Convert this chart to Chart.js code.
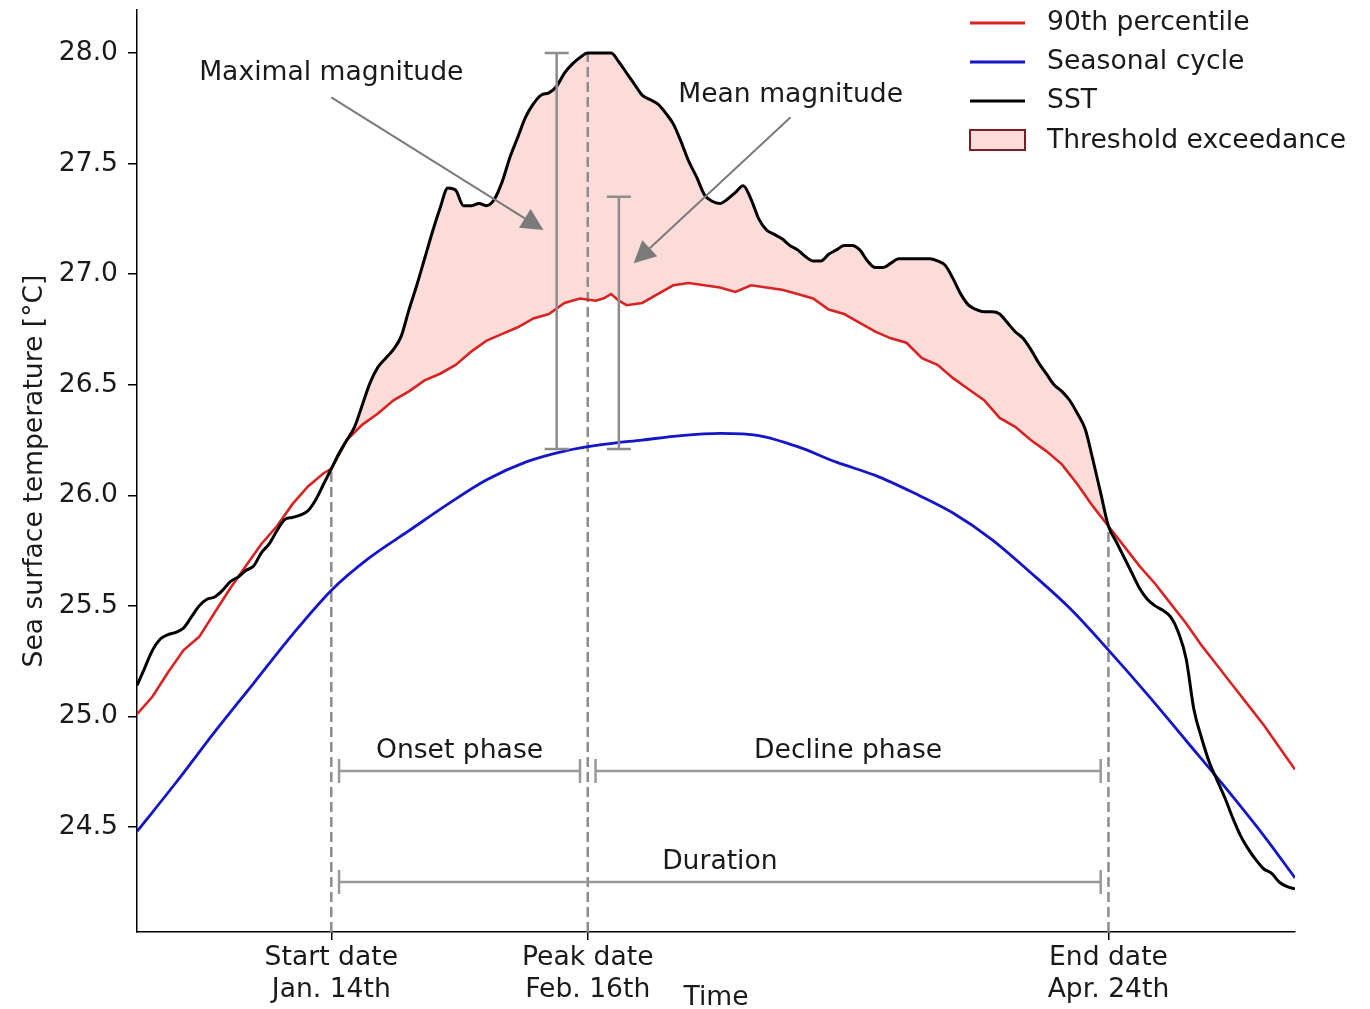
<!DOCTYPE html>
<html>
<head>
<meta charset="utf-8">
<title>Marine heatwave metrics</title>
<script src="https://cdn.jsdelivr.net/npm/chart.js@4.4.1/dist/chart.umd.min.js"></script>
<style>
  html, body { margin: 0; padding: 0; background: #ffffff; }
  #wrap { width: 1370px; height: 1009px; }
</style>
</head>
<body>
<div id="wrap"><canvas id="chart" width="1370" height="1009"></canvas></div>
<script>
// Days are counted from the event start (Jan. 14th = day 0).
const sstDays = Array.from({ length: 150 }, (_, i) => i - 25);
const sstValues = [
  25.14, 25.22, 25.30, 25.35, 25.37, 25.38, 25.40, 25.45, 25.50, 25.53,
  25.54, 25.57, 25.61, 25.63, 25.66, 25.68, 25.74, 25.78, 25.84, 25.89,
  25.90, 25.91, 25.93, 25.98, 26.05, 26.12, 26.19, 26.25, 26.31, 26.41,
  26.51, 26.58, 26.62, 26.66, 26.72, 26.84, 26.95, 27.07, 27.19, 27.30,
  27.39, 27.38, 27.31, 27.31, 27.32, 27.31, 27.34, 27.42, 27.53, 27.62,
  27.71, 27.77, 27.81, 27.82, 27.85, 27.91, 27.95, 27.98, 28.00, 28.00,
  28.00, 28.00, 27.96, 27.91, 27.86, 27.81, 27.79, 27.77, 27.73, 27.68,
  27.60, 27.51, 27.44, 27.36, 27.33, 27.32, 27.34, 27.37, 27.40, 27.34,
  27.25, 27.20, 27.18, 27.16, 27.13, 27.11, 27.08, 27.06, 27.06, 27.09,
  27.11, 27.13, 27.13, 27.11, 27.06, 27.03, 27.03, 27.05, 27.07, 27.07,
  27.07, 27.07, 27.07, 27.06, 27.04, 26.98, 26.91, 26.86, 26.84, 26.83,
  26.83, 26.82, 26.78, 26.74, 26.71, 26.66, 26.60, 26.55, 26.50, 26.47,
  26.43, 26.37, 26.30, 26.16, 26.01, 25.86, 25.79, 25.72, 25.65, 25.58,
  25.53, 25.50, 25.48, 25.45, 25.38, 25.26, 25.03, 24.90, 24.79, 24.71,
  24.63, 24.54, 24.46, 24.40, 24.35, 24.31, 24.29, 24.25, 24.23, 24.22
];

const p90Days = [
  -25, -23, -21, -19, -17, -15, -13, -11, -9, -7, -5, -3, -1,
  0, 2, 4, 6, 8, 10, 12, 14, 16, 18, 20, 22, 24, 26, 28, 30, 32,
  34, 35, 36, 37, 38, 40, 42, 44, 46, 48, 50, 52, 54, 56, 58, 60,
  62, 64, 66, 68, 70, 72, 74, 76, 78, 80, 82, 84, 86, 88, 90, 92,
  94, 96, 98, 100, 102, 104, 106, 108, 110, 112, 114, 116, 118, 120, 122, 124
];
const p90Values = [
  25.01, 25.09, 25.20, 25.30, 25.36, 25.47, 25.58, 25.68, 25.78, 25.86, 25.96, 26.04, 26.10,
  26.12, 26.25, 26.32, 26.37, 26.43, 26.47, 26.52, 26.55, 26.59, 26.65, 26.70, 26.73, 26.76, 26.80, 26.82, 26.87, 26.89,
  26.88, 26.89, 26.91, 26.88, 26.86, 26.87, 26.91, 26.95, 26.96, 26.95, 26.94, 26.92, 26.95, 26.94, 26.93, 26.91,
  26.89, 26.84, 26.82, 26.78, 26.74, 26.71, 26.69, 26.62, 26.59, 26.53, 26.48, 26.43, 26.35, 26.31, 26.25, 26.20,
  26.14, 26.05, 25.95, 25.86, 25.77, 25.68, 25.60, 25.51, 25.42, 25.32, 25.23, 25.14, 25.05, 24.96, 24.86, 24.76
];

const climDays = [
  -25, -20, -15, -10, -5, 0, 5, 10, 15, 20, 25, 30, 35, 40, 45, 50,
  55, 60, 65, 70, 75, 80, 85, 90, 95, 100, 105, 110, 115, 120, 124
];
const climValues = [
  24.48, 24.70, 24.93, 25.15, 25.37, 25.57, 25.72, 25.84, 25.96, 26.07, 26.15, 26.20, 26.23, 26.25, 26.27, 26.28,
  26.27, 26.22, 26.15, 26.09, 26.01, 25.92, 25.80, 25.65, 25.49, 25.30, 25.10, 24.89, 24.68, 24.46, 24.27
];

const yTickValues = [24.5, 25.0, 25.5, 26.0, 26.5, 27.0, 27.5, 28.0];
const eventDays = [0, 33, 100];
const eventTickLabels = [["Start date", "Jan. 14th"], ["Peak date", "Feb. 16th"], ["End date", "Apr. 24th"]];

// Event metrics shown on the plot
const magnitudeBars = [
  { day: 29, low: 26.21, high: 28.00 },  // maximal magnitude
  { day: 37, low: 26.21, high: 27.35 }   // mean magnitude
];
const labelArrows = [
  { text: "Maximal magnitude", textDay: 0, textTemp: 27.91, fromDay: 0, fromTemp: 27.80, toDay: 27.3, toTemp: 27.20 },
  { text: "Mean magnitude", textDay: 59.1, textTemp: 27.81, fromDay: 59.1, fromTemp: 27.71, toDay: 38.9, toTemp: 27.05 }
];
const phaseSpans = [
  { text: "Onset phase", from: 1, to: 32, level: 24.753 },
  { text: "Decline phase", from: 34, to: 99, level: 24.753 },
  { text: "Duration", from: 1, to: 99, level: 24.251 }
];

const FONT = "DejaVu Sans";
const FSIZE = 26.6;
const TEXT = "#1a1a1a";
const GREY = "#8c8c8c";
const RED = "#d92323";
const BLUE = "#1414c8";
const PINK = "rgb(251, 220, 217)";

const toPoints = (xs, ys) => xs.map((d, i) => ({ x: d, y: ys[i] }));
const sstAt = d => sstValues[sstDays.indexOf(d)];

const exceedPoints = sstDays
  .filter(d => d >= eventDays[0] && d <= eventDays[2])
  .map(d => ({ x: d, y: sstAt(d) }));

function drawArrowHead(ctx, x0, y0, x1, y1, len, half) {
  const a = Math.atan2(y1 - y0, x1 - x0);
  const bx = x1 - len * Math.cos(a), by = y1 - len * Math.sin(a);
  ctx.beginPath();
  ctx.moveTo(x1, y1);
  ctx.lineTo(bx + half * Math.sin(a), by - half * Math.cos(a));
  ctx.lineTo(bx - half * Math.sin(a), by + half * Math.cos(a));
  ctx.closePath();
  ctx.fill();
  return [bx, by];
}

const eventAnnotations = {
  id: "eventAnnotations",
  beforeDatasetsDraw(chart) {
    const { ctx, chartArea, scales: { x, y } } = chart;
    ctx.save();
    ctx.strokeStyle = GREY;
    ctx.lineWidth = 2.5;
    ctx.setLineDash([10, 5]);
    eventDays.forEach(d => {
      const px = x.getPixelForValue(d);
      ctx.beginPath();
      ctx.moveTo(px, chartArea.bottom);
      ctx.lineTo(px, y.getPixelForValue(sstAt(d)));
      ctx.stroke();
    });
    ctx.restore();
  },
  afterDatasetsDraw(chart) {
    const { ctx, scales: { x, y } } = chart;
    ctx.save();
    ctx.setLineDash([]);

    // magnitude bars with caps
    ctx.strokeStyle = GREY;
    ctx.lineWidth = 2.5;
    magnitudeBars.forEach(b => {
      const px = x.getPixelForValue(b.day);
      const y0 = y.getPixelForValue(b.low), y1 = y.getPixelForValue(b.high);
      ctx.beginPath();
      ctx.moveTo(px, y0); ctx.lineTo(px, y1);
      ctx.moveTo(px - 12, y0); ctx.lineTo(px + 12, y0);
      ctx.moveTo(px - 12, y1); ctx.lineTo(px + 12, y1);
      ctx.stroke();
    });

    // phase and duration spans
    ctx.font = `${FSIZE}px "${FONT}"`;
    ctx.textAlign = "center";
    ctx.textBaseline = "middle";
    phaseSpans.forEach(s => {
      const x0 = x.getPixelForValue(s.from), x1 = x.getPixelForValue(s.to);
      const py = y.getPixelForValue(s.level);
      ctx.strokeStyle = "#999999";
      ctx.lineWidth = 2.5;
      ctx.beginPath();
      ctx.moveTo(x0, py); ctx.lineTo(x1, py);
      ctx.moveTo(x0, py - 12); ctx.lineTo(x0, py + 12);
      ctx.moveTo(x1, py - 12); ctx.lineTo(x1, py + 12);
      ctx.stroke();
      ctx.fillStyle = TEXT;
      ctx.fillText(s.text, (x0 + x1) / 2, py - 20);
    });

    // labelled arrows
    labelArrows.forEach(a => {
      const fx = x.getPixelForValue(a.fromDay), fy = y.getPixelForValue(a.fromTemp);
      const tx = x.getPixelForValue(a.toDay), ty = y.getPixelForValue(a.toTemp);
      ctx.fillStyle = "#7a7a7a";
      const [bx, by] = drawArrowHead(ctx, fx, fy, tx, ty, 22, 11);
      ctx.strokeStyle = "#7a7a7a";
      ctx.lineWidth = 2;
      ctx.beginPath();
      ctx.moveTo(fx, fy); ctx.lineTo(bx, by);
      ctx.stroke();
      ctx.fillStyle = TEXT;
      ctx.fillText(a.text, x.getPixelForValue(a.textDay), y.getPixelForValue(a.textTemp));
    });
    ctx.restore();
  },
  afterDraw(chart) {
    const { ctx, chartArea } = chart;
    ctx.save();
    ctx.fillStyle = TEXT;
    ctx.font = `${FSIZE}px "${FONT}"`;
    ctx.textAlign = "center";
    ctx.textBaseline = "middle";

    // axis titles
    ctx.fillText("Time", (chartArea.left + chartArea.right) / 2, chartArea.bottom + 66);
    ctx.save();
    ctx.translate(chartArea.left - 102, (chartArea.top + chartArea.bottom) / 2);
    ctx.rotate(-Math.PI / 2);
    ctx.fillText("Sea surface temperature [°C]", 0, 0);
    ctx.restore();

    // legend
    const lx = chartArea.right - 325;
    const tx = chartArea.right - 248;
    const rows = [
      { text: "90th percentile", color: RED, y: 23 },
      { text: "Seasonal cycle", color: BLUE, y: 62 },
      { text: "SST", color: "#000000", y: 101 }
    ];
    ctx.textAlign = "left";
    rows.forEach(r => {
      ctx.strokeStyle = r.color;
      ctx.lineWidth = 3;
      ctx.beginPath();
      ctx.moveTo(lx, r.y); ctx.lineTo(lx + 55, r.y);
      ctx.stroke();
      ctx.fillText(r.text, tx, r.y);
    });
    ctx.fillStyle = PINK;
    ctx.fillRect(lx, 130, 55, 20);
    ctx.strokeStyle = "#7a1f1f";
    ctx.lineWidth = 2;
    ctx.strokeRect(lx, 130, 55, 20);
    ctx.fillStyle = TEXT;
    ctx.fillText("Threshold exceedance", tx, 141);
    ctx.restore();
  }
};

Chart.defaults.font.family = FONT;
Chart.defaults.font.size = FSIZE;
Chart.defaults.color = TEXT;

new Chart(document.getElementById("chart"), {
  type: "line",
  data: {
    datasets: [
      { label: "SST", data: toPoints(sstDays, sstValues), borderColor: "#000000", borderWidth: 3,
        pointRadius: 0, fill: false, cubicInterpolationMode: "monotone" },
      { label: "90th percentile", data: toPoints(p90Days, p90Values), borderColor: RED, borderWidth: 2.6,
        pointRadius: 0, fill: false, tension: 0 },
      { label: "Seasonal cycle", data: toPoints(climDays, climValues), borderColor: BLUE, borderWidth: 2.8,
        pointRadius: 0, fill: false, cubicInterpolationMode: "monotone" },
      { label: "Threshold exceedance", data: exceedPoints, borderWidth: 0, borderColor: "rgba(0,0,0,0)",
        pointRadius: 0, cubicInterpolationMode: "monotone",
        fill: { target: 1, above: PINK, below: "rgba(0,0,0,0)" } }
    ]
  },
  options: {
    responsive: false,
    animation: false,
    events: [],
    layout: { padding: { left: 0, right: 75, top: 10, bottom: 0 } },
    plugins: {
      legend: { display: false },
      tooltip: { enabled: false },
      filler: { drawTime: "beforeDatasetsDraw" }
    },
    scales: {
      x: {
        type: "linear",
        min: -25,
        max: 124,
        afterFit: s => { s.height = 77; s.paddingLeft = 0; s.paddingRight = 0; },
        afterBuildTicks: s => { s.ticks = eventDays.map(v => ({ value: v })); },
        ticks: {
          autoSkip: false,
          maxRotation: 0,
          padding: 2,
          color: TEXT,
          font: { size: FSIZE, lineHeight: 1.2 },
          callback: v => eventTickLabels[eventDays.indexOf(v)]
        },
        grid: { display: true, drawOnChartArea: false, drawTicks: true, tickLength: 8, color: "#000000", lineWidth: 1.5 },
        border: { display: true, color: "#000000", width: 1.5 }
      },
      y: {
        min: 24.025,
        max: 28.195,
        afterFit: s => { s.width = 137; s.paddingTop = 0; s.paddingBottom = 0; },
        afterBuildTicks: s => { s.ticks = yTickValues.map(v => ({ value: v })); },
        ticks: {
          padding: 10,
          color: TEXT,
          font: { size: FSIZE },
          callback: v => v.toFixed(1)
        },
        grid: { display: true, drawOnChartArea: false, drawTicks: true, tickLength: 9, color: "#000000", lineWidth: 1.5 },
        border: { display: true, color: "#000000", width: 1.5 }
      }
    }
  },
  plugins: [eventAnnotations]
});
</script>
</body>
</html>
